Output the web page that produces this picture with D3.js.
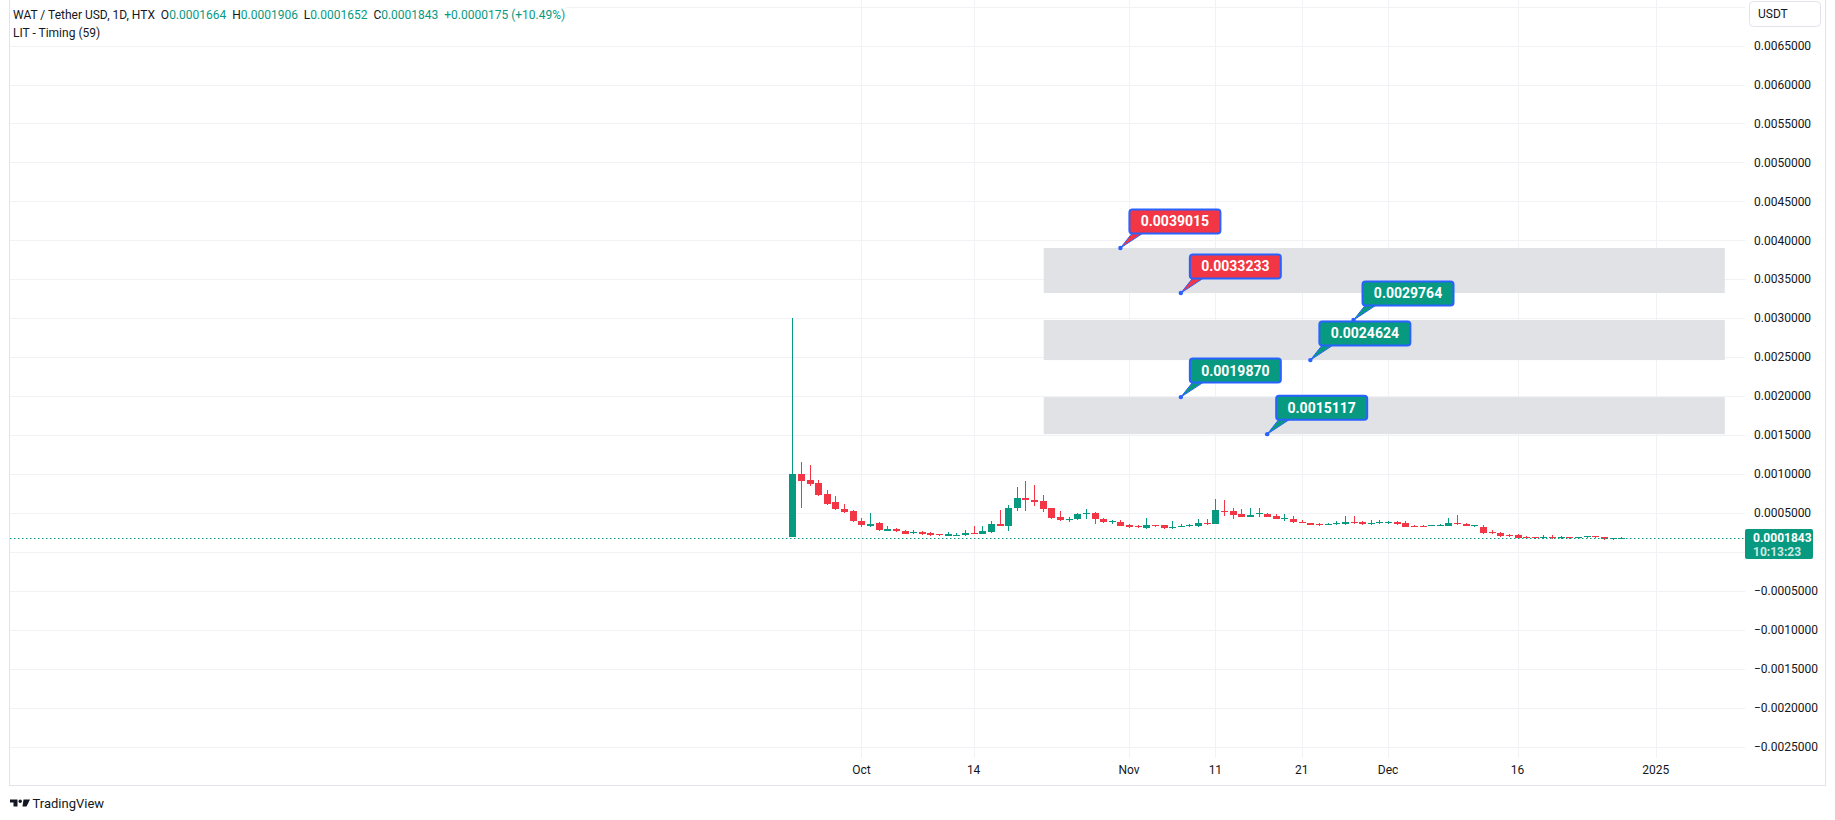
<!DOCTYPE html>
<html>
<head>
<meta charset="utf-8">
<script src="https://cdn.jsdelivr.net/npm/d3@7"></script>
<style>
body { margin: 0; background: #fff; }
svg { display: block; font-family: Roboto, "Noto Sans", sans-serif; }
</style>
</head>
<body>
<div id="chart"></div>
<script>
// daily candles WAT/USDT, first bar 2024-09-23
var firstDay = "2024-09-23";
var opens = [0.000195, 0.000996, 0.000922, 0.000879, 0.000737, 0.000634, 0.000556, 0.000530, 0.000401, 0.000336,
    0.000375, 0.000272, 0.000297, 0.000272, 0.000237, 0.000259, 0.000237, 0.000224, 0.000207, 0.000211,
    0.000211, 0.000246, 0.000228, 0.000250, 0.000362, 0.000328, 0.000560, 0.000698, 0.000672, 0.000647,
    0.000560, 0.000444, 0.000405, 0.000418, 0.000483, 0.000504, 0.000427, 0.000379, 0.000388, 0.000341,
    0.000332, 0.000302, 0.000349, 0.000341, 0.000302, 0.000315, 0.000328, 0.000328, 0.000375, 0.000362,
    0.000530, 0.000530, 0.000491, 0.000444, 0.000483, 0.000491, 0.000457, 0.000418, 0.000427, 0.000388,
    0.000375, 0.000353, 0.000341, 0.000353, 0.000353, 0.000379, 0.000379, 0.000353, 0.000366, 0.000366,
    0.000379, 0.000366, 0.000332, 0.000332, 0.000328, 0.000328, 0.000328, 0.000375, 0.000362, 0.000328,
    0.000323, 0.000250, 0.000237, 0.000216, 0.000211, 0.000185, 0.000185, 0.000172, 0.000185, 0.000172,
    0.000185, 0.000172, 0.000185, 0.000198, 0.000185, 0.000159, 0.0001664];
var highs = [0.003000, 0.001155, 0.001112, 0.000918, 0.000793, 0.000711, 0.000621, 0.000535, 0.000440, 0.000500,
    0.000388, 0.000336, 0.000310, 0.000284, 0.000276, 0.000265, 0.000250, 0.000235, 0.000250, 0.000246,
    0.000284, 0.000328, 0.000336, 0.000392, 0.000543, 0.000608, 0.000828, 0.000905, 0.000853, 0.000724,
    0.000569, 0.000530, 0.000453, 0.000500, 0.000556, 0.000513, 0.000430, 0.000405, 0.000414, 0.000362,
    0.000345, 0.000440, 0.000351, 0.000343, 0.000401, 0.000362, 0.000353, 0.000422, 0.000427, 0.000685,
    0.000672, 0.000569, 0.000556, 0.000569, 0.000569, 0.000493, 0.000491, 0.000491, 0.000457, 0.000405,
    0.000377, 0.000375, 0.000375, 0.000392, 0.000466, 0.000457, 0.000392, 0.000405, 0.000405, 0.000401,
    0.000392, 0.000392, 0.000349, 0.000345, 0.000343, 0.000362, 0.000440, 0.000478, 0.000375, 0.000349,
    0.000349, 0.000276, 0.000250, 0.000224, 0.000224, 0.000198, 0.000194, 0.000220, 0.000220, 0.000207,
    0.000194, 0.000194, 0.000200, 0.000207, 0.000194, 0.000174, 0.0001906];
var lows = [0.000190, 0.000565, 0.000845, 0.000716, 0.000599, 0.000534, 0.000496, 0.000388, 0.000323, 0.000315,
    0.000272, 0.000268, 0.000259, 0.000231, 0.000233, 0.000211, 0.000207, 0.000209, 0.000203, 0.000207,
    0.000207, 0.000235, 0.000224, 0.000246, 0.000326, 0.000272, 0.000522, 0.000522, 0.000586, 0.000513,
    0.000418, 0.000401, 0.000388, 0.000414, 0.000418, 0.000362, 0.000377, 0.000362, 0.000326, 0.000311,
    0.000306, 0.000300, 0.000315, 0.000300, 0.000298, 0.000313, 0.000324, 0.000315, 0.000341, 0.000353,
    0.000466, 0.000418, 0.000442, 0.000442, 0.000453, 0.000442, 0.000416, 0.000401, 0.000377, 0.000366,
    0.000339, 0.000328, 0.000339, 0.000351, 0.000351, 0.000364, 0.000351, 0.000351, 0.000364, 0.000364,
    0.000351, 0.000315, 0.000315, 0.000317, 0.000326, 0.000326, 0.000326, 0.000351, 0.000326, 0.000315,
    0.000235, 0.000235, 0.000196, 0.000194, 0.000168, 0.000170, 0.000170, 0.000170, 0.000170, 0.000170,
    0.000170, 0.000170, 0.000183, 0.000183, 0.000157, 0.000157, 0.0001652];
var closes = [0.000995, 0.000909, 0.000871, 0.000728, 0.000621, 0.000547, 0.000517, 0.000392, 0.000341, 0.000362,
    0.000276, 0.000297, 0.000263, 0.000233, 0.000259, 0.000224, 0.000220, 0.000211, 0.000224, 0.000220,
    0.000246, 0.000237, 0.000272, 0.000362, 0.000328, 0.000565, 0.000698, 0.000664, 0.000642, 0.000547,
    0.000431, 0.000405, 0.000427, 0.000491, 0.000504, 0.000418, 0.000379, 0.000392, 0.000328, 0.000315,
    0.000315, 0.000349, 0.000336, 0.000302, 0.000323, 0.000328, 0.000341, 0.000375, 0.000362, 0.000543,
    0.000517, 0.000478, 0.000444, 0.000478, 0.000496, 0.000444, 0.000418, 0.000431, 0.000379, 0.000375,
    0.000341, 0.000341, 0.000353, 0.000366, 0.000379, 0.000366, 0.000353, 0.000366, 0.000379, 0.000379,
    0.000353, 0.000319, 0.000319, 0.000319, 0.000341, 0.000341, 0.000375, 0.000353, 0.000328, 0.000341,
    0.000237, 0.000237, 0.000198, 0.000198, 0.000172, 0.000172, 0.000172, 0.000185, 0.000172, 0.000185,
    0.000172, 0.000185, 0.000198, 0.000185, 0.000159, 0.000172, 0.0001843];

// LIT - Timing levels
var levelPrices = [0.0039015, 0.0033233, 0.0029764, 0.0024624, 0.0019870, 0.0015117];
var levelDates = ["2024-10-31", "2024-11-07", "2024-11-27", "2024-11-22", "2024-11-07", "2024-11-17"];
var levelKinds = ["sell", "sell", "buy", "buy", "buy", "buy"];
var zoneTops = [0.0039015, 0.0029764, 0.0019870];
var zoneBottoms = [0.0033233, 0.0024624, 0.0015117];
var zoneStart = "2024-10-22", zoneEnd = "2025-01-09";

var timeTicks = ["2024-10-01", "2024-10-14", "2024-11-01", "2024-11-11", "2024-11-21", "2024-12-01", "2024-12-16", "2025-01-01"];
var timeTickLabels = ["Oct", "14", "Nov", "11", "21", "Dec", "16", "2025"];
var priceTicks = d3.range(-0.0025, 0.00701, 0.0005);

var width = 1835, height = 820;
var plotLeft = 10, plotRight = 1745, plotBottom = 758;
var green = "#089981", red = "#f23645", blue = "#2962ff", textCol = "#131722";

var parse = d3.utcParse("%Y-%m-%d");

var x = d3.scaleUtc()
    .domain([parse("2024-10-01"), parse("2025-01-01")])
    .range([861.4, 1655.7]);
var y = d3.scaleLinear()
    .domain([-0.0025, 0.0065])
    .range([746.6, 45.6]);

var svg = d3.select("#chart").append("svg")
    .attr("width", width).attr("height", height);

// grid
var grid = svg.append("g").attr("stroke", "#f0f2f5").attr("stroke-width", 1);
grid.selectAll(".hg").data(priceTicks).enter().append("line")
    .attr("x1", plotLeft).attr("x2", plotRight)
    .attr("y1", function (d) { return Math.round(y(d)) + 0.5; })
    .attr("y2", function (d) { return Math.round(y(d)) + 0.5; });
grid.selectAll(".vg").data(timeTicks).enter().append("line")
    .attr("x1", function (d) { return Math.round(x(parse(d))) + 0.5; })
    .attr("x2", function (d) { return Math.round(x(parse(d))) + 0.5; })
    .attr("y1", 0).attr("y2", plotBottom);

// zones
svg.append("g").selectAll("rect").data(zoneTops).enter().append("rect")
    .attr("x", x(parse(zoneStart)) + 1)
    .attr("width", x(parse(zoneEnd)) - x(parse(zoneStart)) - 1)
    .attr("y", function (d) { return y(d); })
    .attr("height", function (d, i) { return y(zoneBottoms[i]) - y(d); })
    .attr("fill", "#e1e2e6");

// candles
var candles = opens.map(function (o, i) {
    return { date: d3.utcDay.offset(parse(firstDay), i), o: o, h: highs[i], l: lows[i], c: closes[i] };
});
var cg = svg.append("g").attr("shape-rendering", "crispEdges");
cg.selectAll("line").data(candles).enter().append("line")
    .attr("x1", function (d) { return Math.round(x(d.date)) + 0.5; })
    .attr("x2", function (d) { return Math.round(x(d.date)) + 0.5; })
    .attr("y1", function (d) { return y(d.h); })
    .attr("y2", function (d) { return y(d.l); })
    .attr("stroke", function (d) { return d.c >= d.o ? green : red; });
cg.selectAll("rect").data(candles).enter().append("rect")
    .attr("x", function (d) { return Math.round(x(d.date)) - 3; })
    .attr("width", 7)
    .attr("y", function (d) { return y(Math.max(d.o, d.c)); })
    .attr("height", function (d) { return Math.max(1, Math.abs(y(d.o) - y(d.c))); })
    .attr("fill", function (d) { return d.c >= d.o ? green : red; });

// last price line
var last = closes[closes.length - 1];
svg.append("line")
    .attr("x1", plotLeft).attr("x2", plotRight)
    .attr("y1", Math.round(y(last)) + 0.5).attr("y2", Math.round(y(last)) + 0.5)
    .attr("stroke", green).attr("stroke-dasharray", "1.5,2.5");

// level callouts
var lv = svg.append("g").selectAll("g").data(levelPrices).enter().append("g")
    .attr("transform", function (d, i) { return "translate(" + x(parse(levelDates[i])) + "," + y(d) + ")"; });
lv.append("path")
    .attr("d", "M0,0L11.5,-14.5L22,-14.5Z")
    .attr("fill", function (d, i) { return levelKinds[i] == "sell" ? red : green; })
    .attr("stroke", blue).attr("stroke-width", 1);
lv.append("rect")
    .attr("x", 9).attr("y", -38.5).attr("width", 91).attr("height", 24).attr("rx", 3)
    .attr("fill", function (d, i) { return levelKinds[i] == "sell" ? red : green; })
    .attr("stroke", blue).attr("stroke-width", 2);
lv.append("text")
    .attr("x", 54.5).attr("y", -26.5).attr("dy", "0.35em")
    .attr("text-anchor", "middle")
    .attr("fill", "#fff").attr("font-size", "14px").attr("font-weight", "bold")
    .text(function (d) { return d.toFixed(7); });
lv.append("circle").attr("r", 2.2).attr("fill", blue);

// price axis (zero label sits under the last price tag)
var fmt = function (d) {
    var s = Math.abs(d).toFixed(7);
    return d < -1e-9 ? "\u2212" + s : s;
};
svg.append("g").selectAll("text")
    .data(priceTicks.filter(function (d) { return d < 0.0068 && Math.abs(d) > 1e-9; }))
    .enter().append("text")
    .attr("x", 1754).attr("y", function (d) { return y(d); }).attr("dy", "0.35em")
    .attr("font-size", "12px").attr("fill", textCol)
    .text(fmt);

// USDT button
svg.append("rect").attr("x", 1749.5).attr("y", 1.5).attr("width", 71).attr("height", 25).attr("rx", 4)
    .attr("fill", "#fff").attr("stroke", "#e0e3eb");
svg.append("text").attr("x", 1758).attr("y", 14).attr("dy", "0.35em")
    .attr("font-size", "12px").attr("fill", textCol).text("USDT");

// last price label
svg.append("rect").attr("x", 1745).attr("y", 529).attr("width", 68).attr("height", 30).attr("rx", 2)
    .attr("fill", green);
svg.append("text").attr("x", 1753).attr("y", 537.5).attr("dy", "0.35em")
    .attr("font-size", "12px").attr("font-weight", "bold").attr("fill", "#fff").text(last.toFixed(7));
svg.append("text").attr("x", 1753).attr("y", 551.5).attr("dy", "0.35em")
    .attr("font-size", "12px").attr("font-weight", "bold").attr("fill", "#fff").attr("fill-opacity", 0.8).text("10:13:23");

// time axis
svg.append("g").selectAll("text").data(timeTicks).enter().append("text")
    .attr("x", function (d) { return x(parse(d)); }).attr("y", 770).attr("dy", "0.35em")
    .attr("text-anchor", "middle").attr("font-size", "12px").attr("fill", textCol)
    .text(function (d, i) { return timeTickLabels[i]; });

// frame
svg.append("rect").attr("x", 9.5).attr("y", -1).attr("width", 1816).attr("height", 786.5)
    .attr("fill", "none").attr("stroke", "#e0e3eb");

// legend
svg.append("rect").attr("x", 10).attr("y", 0).attr("width", 556).attr("height", 22).attr("fill", "#fff");
var leg = svg.append("text").attr("x", 13).attr("y", 19).attr("font-size", "12px").attr("fill", textCol)
    .attr("xml:space", "preserve");
leg.append("tspan").text("WAT / Tether USD, 1D, HTX  O");
leg.append("tspan").attr("fill", green).text(opens[opens.length - 1].toFixed(7));
leg.append("tspan").text("  H");
leg.append("tspan").attr("fill", green).text(highs[highs.length - 1].toFixed(7));
leg.append("tspan").text("  L");
leg.append("tspan").attr("fill", green).text(lows[lows.length - 1].toFixed(7));
leg.append("tspan").text("  C");
leg.append("tspan").attr("fill", green).text(last.toFixed(7));
leg.append("tspan").attr("fill", green).text("  +0.0000175 (+10.49%)");
svg.append("text").attr("x", 13).attr("y", 37).attr("font-size", "12px").attr("fill", textCol)
    .text("LIT - Timing (59)");

// TradingView logo
var logo = svg.append("g").attr("fill", textCol);
logo.append("path").attr("d", "M10,799.5H17.5V806.5H13.5V802.5H10Z");
logo.append("circle").attr("cx", 20.2).attr("cy", 801.2).attr("r", 1.7);
logo.append("path").attr("d", "M23.5,799.5H30L26.5,806.5H22.5Z");
svg.append("text").attr("x", 32.5).attr("y", 803.5).attr("dy", "0.35em")
    .attr("font-size", "13px").attr("fill", textCol).text("TradingView");
</script>
</body>
</html>
